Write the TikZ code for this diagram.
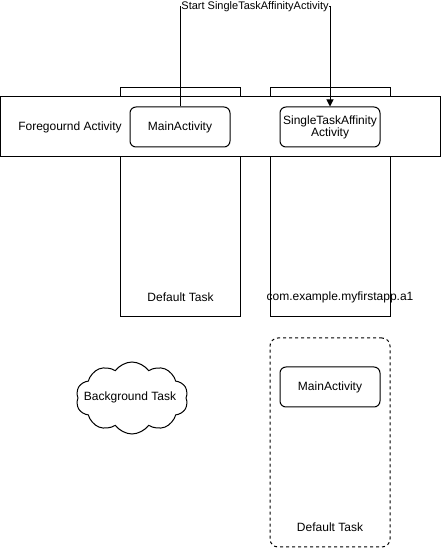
\documentclass[tikz,border=0pt]{standalone}
\usepackage{fontspec}
\setmainfont{Liberation Sans}
\usetikzlibrary{arrows.meta,shapes.symbols}
\begin{document}
\begin{tikzpicture}[x=1pt,y=1pt,
  every node/.style={font=\fontsize{12}{14}\selectfont, text=black},
  frame/.style={draw, line width=1pt},
  act/.style={draw, line width=1pt, rounded corners=6pt, fill=white, minimum width=100pt, minimum height=40pt, inner sep=1pt, align=center},
  lbl/.style={inner sep=0pt}]
\useasboundingbox (0,0) rectangle (441,549);
% task boxes
\node[frame, minimum width=120pt, minimum height=229pt, inner sep=0pt] (t1) at (180,{549-202.5}) {};
\node[frame, minimum width=120pt, minimum height=229pt, inner sep=0pt] (t2) at (330,{549-202.5}) {};
\node[lbl] (t1l) at (180.5,{549-297}) {Default Task};
\node[lbl] (t2l) at (340,{549-297}) {com.example.myfirstapp.a1};
% foreground band
\node[frame, fill=white, minimum width=440pt, minimum height=60pt, inner sep=0pt] (fg) at (220.5,{549-127}) {};
\node[lbl] (fgl) at (70,{549-127}) {Foregournd Activity};
\node[act] (ma) at (180,{549-127}) {MainActivity};
\node[act] (sta) at (330,{549-127}) {SingleTaskAffinity\\[-2pt]Activity};
% dashed default task
\node[draw, line width=1pt, dashed, rounded corners=8pt, minimum width=120pt, minimum height=209pt, inner sep=0pt] (dt) at (330,{549-442.5}) {};
\node[act] (ma2) at (330,{549-387}) {MainActivity};
\node[lbl] (dtl) at (330,{549-527}) {Default Task};
% cloud
\node[cloud, draw, line width=1pt, cloud puffs=10, cloud puff arc=110, aspect=1.6, minimum width=112pt, minimum height=72pt, inner sep=0pt] (bg) at (132,{549-398}) {};
\node[lbl] (bgl) at (130,{549-397}) {Background Task};
% connector
\coordinate (top) at (255,{549-7});
\draw[line width=1pt, -{Triangle[length=7pt,width=7pt]}] (ma.north) -- (ma.north |- top) -- (sta.north |- top) -- (sta.north);
\node[lbl, fill=white, inner xsep=0.5pt, inner ysep=1pt, font=\fontsize{11}{13}\selectfont] (startl) at (top) {Start SingleTaskAffinityActivity};
\end{tikzpicture}
\end{document}
